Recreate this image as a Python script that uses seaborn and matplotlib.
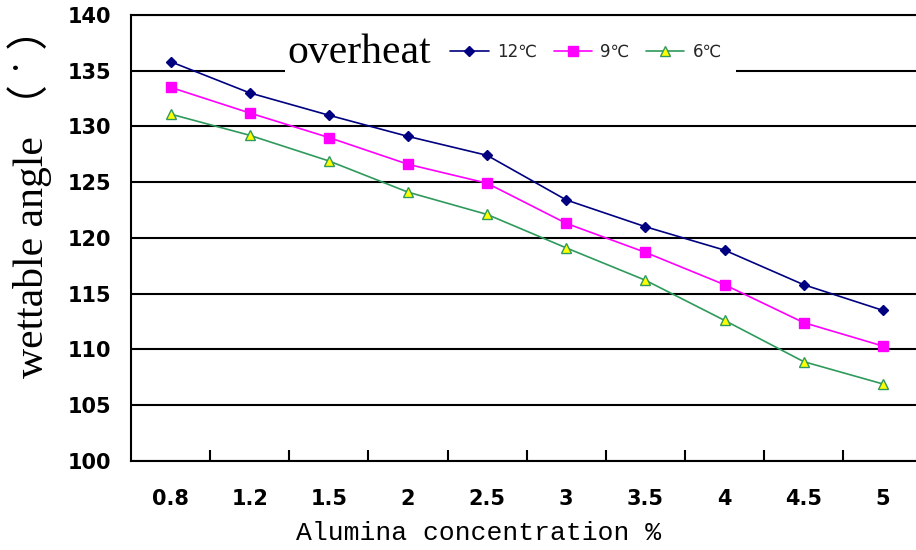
import matplotlib
matplotlib.use("Agg")
import matplotlib.pyplot as plt
import seaborn as sns
import pandas as pd
from matplotlib.patches import Rectangle

concentrations = ["0.8", "1.2", "1.5", "2", "2.5", "3", "3.5", "4", "4.5", "5"]
angle_12 = [135.8, 133.0, 131.0, 129.1, 127.4, 123.4, 121.0, 118.9, 115.8, 113.5]
angle_9 = [133.5, 131.2, 129.0, 126.6, 124.9, 121.3, 118.7, 115.8, 112.4, 110.3]
angle_6 = [131.1, 129.2, 126.9, 124.1, 122.1, 119.1, 116.2, 112.6, 108.9, 106.9]
series_labels = ["12℃", "9℃", "6℃"]
y_ticks = [100, 105, 110, 115, 120, 125, 130, 135, 140]

sns.set_theme(style="white")
plt.rcParams['font.family'] = ['DejaVu Sans', 'Noto Sans CJK SC']

fig = plt.figure(figsize=(9.16, 5.5), dpi=100)
ax = fig.add_axes([0.143, 0.162, 0.864, 0.811])

df = pd.DataFrame({"x": concentrations, "a12": angle_12, "a9": angle_9, "a6": angle_6})

styles = [
    ("a12", series_labels[0], "#000080", "D", "#000080", "#000080", 5.5),
    ("a9", series_labels[1], "#FF00FF", "s", "#FF00FF", "#FF00FF", 6.5),
    ("a6", series_labels[2], "#2E9A5C", "^", "#FFFF00", "#2E9A5C", 7),
]
for col, lab, c, m, fc, ec, ms in styles:
    sns.lineplot(data=df, x="x", y=col, ax=ax, color=c, marker=m, markersize=ms,
                 markerfacecolor=fc, markeredgecolor=ec, markeredgewidth=1.0,
                 linewidth=1.2, label=lab, sort=False, zorder=4)

ax.set_xlim(-0.5, 9.5)
ax.set_ylim(100, 140)
ax.set_yticks(y_ticks)
ax.set_yticklabels([str(v) for v in y_ticks])
ax.set_xticks(range(len(concentrations)))
ax.set_xticklabels(concentrations)
ax.set_xticks([i + 0.5 for i in range(len(concentrations) - 1)], minor=True)

for t in ax.get_xticklabels() + ax.get_yticklabels():
    t.set_fontfamily(['DejaVu Sans'])
    t.set_fontweight('bold')
    t.set_fontsize(15)

ax.tick_params(axis='x', which='major', length=0, pad=20, colors='black')
ax.tick_params(axis='x', which='minor', direction='in', length=8, width=1.5, colors='black', bottom=True)
ax.tick_params(axis='y', which='major', length=0, pad=14, colors='black')

ax.yaxis.grid(True, color='black', linewidth=1.5)
ax.xaxis.grid(False)
ax.set_axisbelow(True)
for s in ['left', 'bottom', 'top']:
    ax.spines[s].set_visible(True)
    ax.spines[s].set_color('black')
    ax.spines[s].set_linewidth(1.5)
ax.spines['right'].set_visible(False)

ax.set_ylabel("wettable angle （ ˙ ）", family=['Liberation Serif', 'Noto Sans CJK SC'],
              fontsize=30, color='black')
ax.yaxis.set_label_coords(-0.100, 0.6)
ax.set_xlabel("Alumina concentration %", family=['Liberation Mono'],
              fontsize=19, color='black')
ax.xaxis.set_label_coords(0.439, -0.135)

ax.add_patch(Rectangle((0.195, 0.865), 0.57, 0.097, transform=ax.transAxes,
                       facecolor='white', edgecolor='none', zorder=2.5))
ax.text(0.198, 0.915, "overheat", transform=ax.transAxes, ha='left', va='center',
        family=['Liberation Serif'], fontsize=30, color='black', zorder=5)

leg = ax.legend(loc='center', bbox_to_anchor=(0.575, 0.917), ncol=3, frameon=False,
                handlelength=2.3, handletextpad=0.5, columnspacing=1.0,
                prop=dict(family=['DejaVu Sans', 'Noto Sans CJK SC'], size=12))
leg.set_zorder(6)

fig.savefig("out.png", dpi=100, facecolor='white')
